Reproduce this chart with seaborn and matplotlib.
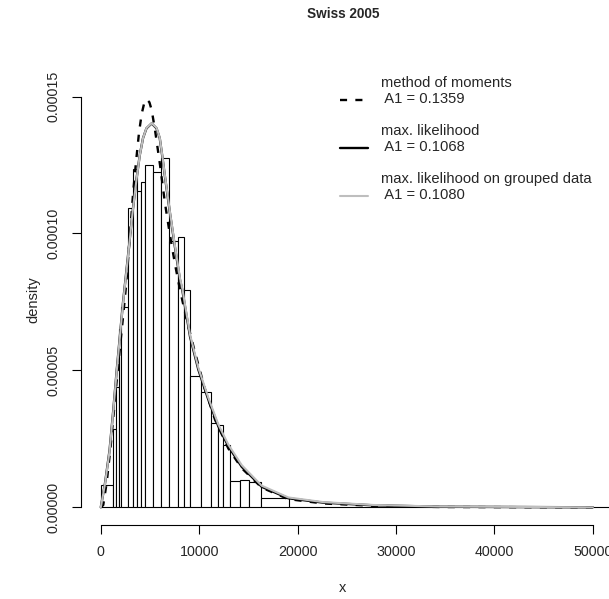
import matplotlib
matplotlib.use("Agg")
import matplotlib.pyplot as plt
import seaborn as sns
import numpy as np
from matplotlib.lines import Line2D

# histogram of grouped incomes (bin edges and density heights)
bin_edges = [0, 1200, 1500, 1800, 2100, 2750, 3250, 3700, 4050, 4500, 5350,
             6150, 6900, 7850, 8450, 9050, 10200, 11250, 11900, 12450, 13100,
             14150, 15100, 16250, 19150, 60000]
bin_density = [8.3e-6, 2.85e-5, 4.38e-5, 6.51e-5, 7.33e-5, 1.094e-4, 1.235e-4,
               1.155e-4, 1.189e-4, 1.250e-4, 1.226e-4, 1.275e-4, 9.74e-5,
               9.86e-5, 7.94e-5, 4.80e-5, 4.21e-5, 3.08e-5, 3.01e-5, 2.28e-5,
               9.6e-6, 1.0e-5, 9.2e-6, 3.5e-6, 2.0e-7]

# fitted densities
mm_x = [0, 250, 600, 990, 1320, 1640, 1970, 2290, 2610, 2840, 3070, 3300, 3590,
        3880, 4150, 4390, 4660, 4940, 5170, 5510, 6020, 6520, 7030, 7540, 8050,
        8730, 9570, 10590, 11610, 12960, 14320, 16350, 19060, 22610, 27690,
        34470, 50000]
mm_y = [0, 8.4e-7, 9.1e-6, 2.19e-5, 3.47e-5, 4.71e-5, 5.92e-5, 7.06e-5, 8.27e-5,
        9.36e-5, 1.046e-4, 1.155e-4, 1.265e-4, 1.367e-4, 1.436e-4, 1.473e-4,
        1.490e-4, 1.479e-4, 1.451e-4, 1.378e-4, 1.250e-4, 1.111e-4, 9.94e-5,
        8.88e-5, 7.94e-5, 6.84e-5, 5.66e-5, 4.31e-5, 3.20e-5, 2.15e-5, 1.43e-5,
        7.2e-6, 3.0e-6, 1.4e-6, 5.5e-7, 1.1e-7, 0]

ml_x = [0, 430, 890, 1270, 1620, 1930, 2250, 2610, 2930, 3250, 3610, 3960, 4290,
        4640, 5170, 5660, 5990, 6260, 6500, 7030, 7540, 8050, 8280, 9070, 9910,
        10930, 11940, 12960, 14320, 16350, 19060, 22610, 27690, 34470, 50000]
ml_y = [0, 8.8e-6, 2.08e-5, 3.55e-5, 5.01e-5, 6.21e-5, 7.45e-5, 8.66e-5, 9.75e-5,
        1.085e-4, 1.194e-4, 1.286e-4, 1.348e-4, 1.384e-4, 1.402e-4, 1.384e-4,
        1.348e-4, 1.279e-4, 1.213e-4, 1.074e-4, 9.49e-5, 8.30e-5, 7.94e-5,
        6.23e-5, 5.03e-5, 3.93e-5, 2.96e-5, 2.23e-5, 1.48e-5, 7.5e-6, 3.3e-6,
        1.7e-6, 7.3e-7, 2.2e-7, 0]

mlg_x = ml_x
mlg_y = [0, 8.6e-6, 2.05e-5, 3.52e-5, 4.98e-5, 6.18e-5, 7.42e-5, 8.63e-5, 9.73e-5,
         1.083e-4, 1.192e-4, 1.285e-4, 1.348e-4, 1.385e-4, 1.403e-4, 1.386e-4,
         1.350e-4, 1.282e-4, 1.216e-4, 1.078e-4, 9.54e-5, 8.36e-5, 8.00e-5,
         6.30e-5, 5.10e-5, 4.00e-5, 3.03e-5, 2.29e-5, 1.54e-5, 7.9e-6, 3.6e-6,
         1.9e-6, 8.5e-7, 2.8e-7, 0]

legend_labels = ["method of moments\n A1 = 0.1359",
                 "max. likelihood\n A1 = 0.1068",
                 "max. likelihood on grouped data\n A1 = 0.1080"]

W, H = 609, 599
sns.set_style("white")
plt.rcParams['font.family'] = ['Liberation Sans', 'DejaVu Sans']

fig = plt.figure(figsize=(W / 100, H / 100), dpi=100)
ax = fig.add_axes([81 / W, 1 - 525 / H, (615 - 81) / W, (525 - 60) / H])

mids = [(a + b) / 2 for a, b in zip(bin_edges[:-1], bin_edges[1:])]
sns.histplot(x=mids, weights=bin_density, bins=bin_edges, stat="count",
             color="white", edgecolor="black", linewidth=0.8, alpha=1, ax=ax)

dash = (0, (3, 3.5))
grey = "#BEBEBE"
sns.lineplot(x=mm_x, y=mm_y, color="black", lw=1.7, linestyle=dash, ax=ax)
sns.lineplot(x=ml_x, y=ml_y, color="black", lw=1.7, ax=ax)
sns.lineplot(x=mlg_x, y=mlg_y, color=grey, lw=1.5, ax=ax)

ax.set_xlim(-2012, 52256)
ax.set_ylim(-6.46e-6, 1.6335e-4)
ax.set_xticks([0, 10000, 20000, 30000, 40000, 50000])
ax.set_xticklabels(["0", "10000", "20000", "30000", "40000", "50000"])
ax.set_yticks([0, 0.00005, 0.0001, 0.00015])
ax.set_yticklabels(["0.00000", "0.00005", "0.00010", "0.00015"],
                   rotation=90, va="center")
for s in ["top", "right"]:
    ax.spines[s].set_visible(False)
ax.spines["left"].set_bounds(0, 0.00015)
ax.spines["bottom"].set_bounds(0, 50000)
for s in ["left", "bottom"]:
    ax.spines[s].set_color("black")
    ax.spines[s].set_linewidth(0.8)
ax.tick_params(axis="both", direction="out", length=6.5, width=0.8,
               color="black", labelsize=10.3, pad=8, left=True, bottom=True)
ax.set_xlabel("")
ax.set_ylabel("")

fig.text(343 / W, 1 - 14 / H, "Swiss 2005", ha="center", va="center",
         fontsize=9.8, fontweight="bold")
fig.text(343 / W, 1 - 588 / H, "x", ha="center", va="center", fontsize=10.5)
fig.text(33 / W, 1 - 300 / H, "density", ha="center", va="center",
         rotation=90, fontsize=10.5)

# legend drawn by hand to keep the R layout (sample line beside the 2nd row)
styles = [dict(color="black", lw=1.7, linestyle=dash),
          dict(color="black", lw=1.7),
          dict(color=grey, lw=1.5)]
row_y = [100, 148, 196]
for lab, st, yy in zip(legend_labels, styles, row_y):
    fy = 1 - yy / H
    fig.add_artist(Line2D([340 / W, 368 / W], [fy, fy],
                          transform=fig.transFigure, **st))
    fig.text(381 / W, 1 - (yy - 9) / H, lab, ha="left", va="center",
             fontsize=10.6, linespacing=1.15)

fig.savefig("out.png", dpi=100)
